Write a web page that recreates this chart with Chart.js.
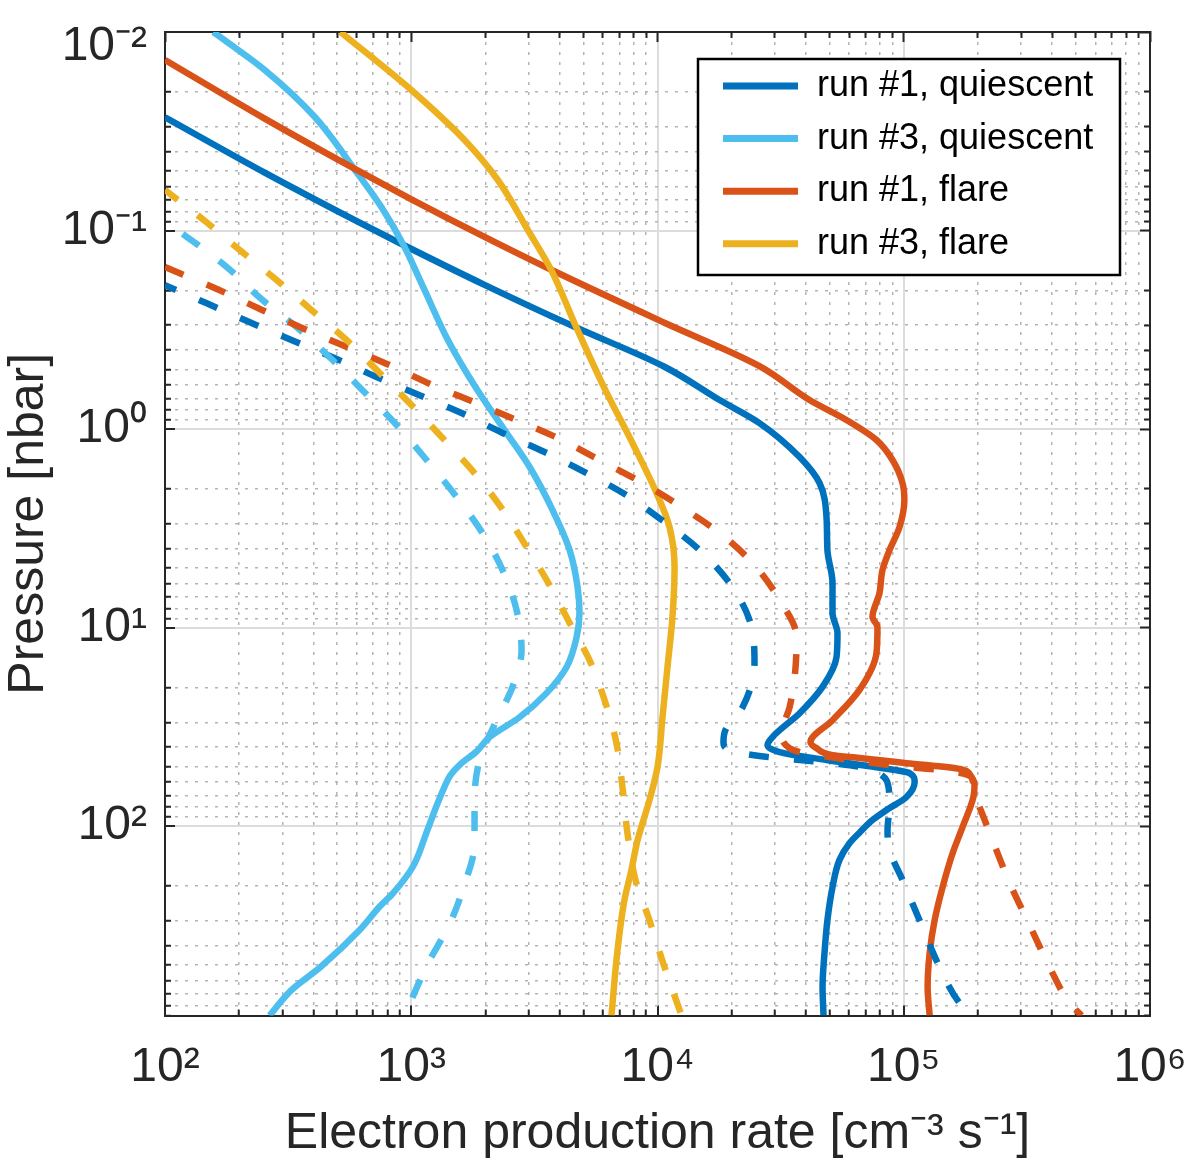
<!DOCTYPE html>
<html>
<head>
<meta charset="utf-8">
<script src="https://cdn.jsdelivr.net/npm/chart.js@4.4.1/dist/chart.umd.min.js"></script>
<style>
html,body{margin:0;padding:0;background:#ffffff;}
#wrap{width:1200px;height:1163px;position:relative;}
</style>
</head>
<body>
<div id="wrap"><canvas id="c" width="1200" height="1163"></canvas></div>
<script>
// ---------------- axis ticks & text ----------------
const xTickValues = [1e2, 1e3, 1e4, 1e5, 1e6];
const xTickLabels = ['10²', '10³', '10⁴', '10⁵', '10⁶'];
const yTickValues = [0.01, 0.1, 1, 10, 100];
const yTickLabels = ['10⁻²', '10⁻¹', '10⁰', '10¹', '10²'];
const minorMultipliers = [2, 3, 4, 5, 6, 7, 8, 9];
const xMinorDecades = [1e2, 1e3, 1e4, 1e5];
const yMinorDecades = [0.01, 0.1, 1, 10, 100];
const xAxisTitle = 'Electron production rate [cm⁻³ s⁻¹]';
const yAxisTitle = 'Pressure [nbar]';
const legendLabels = ['run #1, quiescent', 'run #3, quiescent', 'run #1, flare', 'run #3, flare'];

// ---------------- data: pressure [nbar] and electron production rate [cm^-3 s^-1] ----------------
// run #1, quiescent (solid)
const run1QuietSolidP = [0.0269, 0.0511, 0.0895, 0.1183, 0.1878, 0.3055, 0.4855, 0.714, 0.933, 1.384, 1.87, 2.77, 4.07, 5.97, 8.45, 10.66, 14.1, 19.9, 27.0, 35.6, 39.1, 42.4, 46.5, 50.5, 54.1, 60.0, 71.4, 83.0, 93.3, 108, 122, 148, 203, 298, 436, 647, 900];
const run1QuietSolidRate = [100, 254, 598, 930, 1984, 4603, 10670, 17870, 25950, 37770, 45500, 48550, 48980, 51370, 51370, 53820, 53330, 46800, 37770, 29320, 27970, 31320, 48550, 77500, 105600, 110700, 102600, 85140, 74650, 66120, 60200, 54840, 51370, 48980, 47660, 46800, 47230];
// run #3, quiescent (solid)
const run3QuietSolidP = [0.01, 0.01097, 0.01553, 0.02671, 0.05056, 0.07589, 0.1183, 0.1993, 0.356, 0.6237, 1.048, 1.553, 2.56, 4.07, 6.25, 8.45, 11.2, 15.8, 21.4, 28.3, 35.6, 42.24, 48.72, 55.35, 63.39, 79.95, 108.8, 160.3, 218.3, 255, 334, 513, 670, 900];
const run3QuietSolidRate = [157, 174, 254, 405, 598, 755, 930, 1132, 1408, 1836, 2440, 3025, 3749, 4396, 4736, 4822, 4693, 4276, 3543, 2753, 2081, 1836, 1585, 1443, 1365, 1263, 1150, 1015, 842, 743, 617, 428, 326, 266];
// run #1, flare (solid)
const run1FlareSolidP = [0.01384, 0.02733, 0.0494, 0.07022, 0.1077, 0.1577, 0.2914, 0.482, 0.714, 0.901, 1.136, 1.432, 1.87, 2.28, 3.12, 4.07, 5.13, 6.70, 8.85, 9.94, 13.4, 20.6, 29.3, 37.8, 40.5, 43.9, 45.4, 48.2, 51.6, 56.6, 62.1, 71.4, 101, 137, 203, 298, 436, 647, 900];
const run1FlareSolidRate = [100, 254, 598, 1015, 1984, 3701, 10670, 25950, 41440, 58520, 77500, 90010, 98840, 100600, 96090, 87560, 81970, 79720, 74650, 78200, 77500, 66120, 51370, 41800, 44230, 51370, 66120, 102600, 168700, 188300, 193800, 191800, 173400, 157900, 143800, 133500, 127400, 125000, 127400];
// run #3, flare (solid)
const run3FlareSolidP = [0.01, 0.0196, 0.035, 0.05566, 0.09943, 0.1581, 0.2935, 0.6237, 1.176, 2.10, 3.12, 4.95, 8.85, 15.8, 28.3, 50.5, 74.0, 118, 167, 236, 422, 900];
const run3FlareSolidRate = [516, 1000, 1645, 2247, 2974, 3701, 4603, 6092, 7909, 9908, 11190, 11730, 11500, 10980, 10480, 10000, 9276, 8295, 7833, 7340, 6880, 6503];
// run #1, quiescent (dashed)
const run1QuietDashedP = [0.1884, 0.232, 0.289, 0.356, 0.439, 0.547, 0.675, 0.830, 1.047, 1.306, 1.666, 2.153, 2.94, 4.07, 5.97, 9.17, 15.1, 25.2, 32.8, 37.8, 41.4, 44.4, 46.5, 48.7, 51.1, 55.3, 63.6, 78.4, 104.7, 132, 187, 298, 513, 780, 900];
const run1QuietDashedRate = [100, 147, 220, 326, 488, 723, 1081, 1600, 2348, 3478, 5152, 7476, 10670, 14830, 19610, 23640, 24770, 22150, 18880, 18530, 19610, 25950, 37770, 54840, 70580, 81280, 86700, 87560, 85930, 87560, 98840, 115900, 139800, 168700, 189200];
// run #3, quiescent (dashed)
const run3QuietDashedP = [0.0895, 0.1525, 0.224, 0.306, 0.449, 0.637, 0.955, 1.432, 2.20, 3.34, 5.13, 8.16, 13.0, 19.9, 29.3, 46.5, 74.0, 122, 203, 312, 496, 900];
const run3QuietDashedRate = [100, 178, 249, 342, 479, 634, 872, 1154, 1528, 1947, 2348, 2677, 2805, 2578, 2220, 1895, 1807, 1807, 1631, 1431, 1165, 940];
// run #1, flare (dashed)
const run1FlareDashedP = [0.1528, 0.1995, 0.252, 0.317, 0.391, 0.476, 0.600, 0.740, 0.901, 1.109, 1.432, 1.870, 2.47, 3.34, 4.73, 7.26, 11.2, 17.8, 25.2, 34.0, 40.5, 42.9, 44.9, 47.6, 50.5, 52.8, 57.3, 68.2, 80.2, 118, 193.6, 315.5, 513, 780, 900];
const run1FlareDashedRate = [100, 166, 249, 376, 561, 817, 1220, 1841, 2677, 3930, 5816, 8695, 12520, 17870, 24320, 31320, 36720, 36050, 34390, 31920, 34390, 39540, 50000, 69200, 105600, 153600, 189200, 192300, 203100, 229400, 269200, 324400, 391000, 471700, 527200];
// run #3, flare (dashed)
const run3FlareDashedP = [0.0625, 0.0906, 0.1254, 0.1775, 0.252, 0.356, 0.522, 0.757, 1.109, 1.666, 2.50, 3.93, 6.11, 9.49, 14.6, 23.2, 38.2, 63.6, 108, 187, 298, 496, 900];
const run3FlareDashedRate = [100, 147, 201, 284, 394, 546, 744, 1002, 1340, 1807, 2327, 2940, 3645, 4396, 5296, 6095, 6812, 7204, 7546, 8141, 9276, 10580, 12520];

// ---------------- styling ----------------
const FONT = '"Liberation Sans", Arial, Helvetica, sans-serif';
const AXC = '#262626';
const C_BLUE = '#0072BD', C_LBLUE = '#4DBEEE', C_ORANGE = '#D95319', C_YELLOW = '#EDB120';
const LW = 6.5;
const DASH = [20, 25];

const xMinorTicks = [];
xMinorDecades.forEach(d => minorMultipliers.forEach(m => xMinorTicks.push(m * d)));
const yMinorTicks = [];
yMinorDecades.forEach(d => minorMultipliers.forEach(m => { const v = m * d; if (v <= 900) yMinorTicks.push(v); }));

function pts(P, R) { return P.map((p, i) => ({ x: R[i], y: p })); }
function ds(label, P, R, color, dashed, order, dashOffset) {
  return {
    label: label, data: pts(P, R), xAxisID: 'x', yAxisID: 'y', indexAxis: 'y',
    borderColor: color, backgroundColor: color,
    borderWidth: LW, borderDash: dashed ? DASH : [], borderDashOffset: dashOffset || 0,
    pointRadius: 0, pointHoverRadius: 0,
    fill: false, cubicInterpolationMode: 'monotone', clip: 0, order: order,
    borderCapStyle: 'butt', borderJoinStyle: 'round'
  };
}

function setTicks(values) { return s => { s.ticks = values.map(v => ({ value: v })); }; }
function lookup(values, labels) {
  return v => { for (let i = 0; i < values.length; i++) { if (Math.abs(values[i] - v) / values[i] < 1e-6) return labels[i]; } return ''; };
}
const yLabel = lookup(yTickValues, yTickLabels);

function minorAxis(pos, min, max, ticks, extra) {
  const horiz = (pos === 'top' || pos === 'bottom');
  return Object.assign({
    type: 'logarithmic', position: pos, min: min, max: max, weight: 0,
    afterBuildTicks: setTicks(ticks),
    afterFit: s => { if (horiz) s.height = 0; else s.width = 0; s.paddingLeft = s.paddingRight = s.paddingTop = s.paddingBottom = 0; },
    ticks: { display: false, autoSkip: false },
    grid: { display: true, drawOnChartArea: false, drawTicks: true, tickLength: -6, tickColor: AXC, tickWidth: 2 },
    border: { display: false }
  }, extra || {});
}

const xMin = 100, xMax = 1e6, yMin = 0.01, yMax = 900;

const chart = new Chart(document.getElementById('c'), {
  type: 'line',
  data: {
    datasets: [
      ds(legendLabels[0], run1QuietSolidP, run1QuietSolidRate, C_BLUE, false, 8),
      ds(legendLabels[1], run3QuietSolidP, run3QuietSolidRate, C_LBLUE, false, 7),
      ds(legendLabels[2], run1FlareSolidP, run1FlareSolidRate, C_ORANGE, false, 6),
      ds(legendLabels[3], run3FlareSolidP, run3FlareSolidRate, C_YELLOW, false, 5),
      ds(legendLabels[0] + ' (dashed)', run1QuietDashedP, run1QuietDashedRate, C_BLUE, true, 4, 8),
      ds(legendLabels[1] + ' (dashed)', run3QuietDashedP, run3QuietDashedRate, C_LBLUE, true, 3, 23),
      ds(legendLabels[2] + ' (dashed)', run1FlareDashedP, run1FlareDashedRate, C_ORANGE, true, 2, 0),
      ds(legendLabels[3] + ' (dashed)', run3FlareDashedP, run3FlareDashedRate, C_YELLOW, true, 1, 4)
    ]
  },
  options: {
    responsive: false,
    animation: false,
    events: [],
    layout: { padding: { top: 32, right: 50, bottom: 0, left: 0 } },
    plugins: { legend: { display: false }, tooltip: { enabled: false } },
    scales: {
      x: {
        type: 'logarithmic', position: 'bottom', min: xMin, max: xMax, weight: 1,
        afterBuildTicks: setTicks(xTickValues),
        afterFit: s => { s.height = 147.5; s.paddingLeft = 0; s.paddingRight = 0; },
        ticks: { autoSkip: false, maxRotation: 0, minRotation: 0, padding: 33, color: AXC,
                 font: { family: FONT, size: 48 }, callback: lookup(xTickValues, xTickLabels) },
        grid: { color: '#dcdcdc', lineWidth: 2, drawTicks: true, tickLength: -10, tickColor: AXC, tickWidth: 2 },
        border: { display: true, color: AXC, width: 2 },
        title: { display: true, text: xAxisTitle, color: AXC, font: { family: FONT, size: 50, lineHeight: 1.15 }, padding: { top: 0, bottom: 0 } }
      },
      xMinor: minorAxis('bottom', xMin, xMax, xMinorTicks, {
        grid: { display: true, drawOnChartArea: true, color: '#b4b4b4', lineWidth: 1.5, drawTicks: true, tickLength: -6, tickColor: AXC, tickWidth: 2 },
        border: { display: false, dash: [3, 7] }
      }),
      xTop: {
        type: 'logarithmic', position: 'top', min: xMin, max: xMax, weight: 1,
        afterBuildTicks: setTicks(xTickValues),
        afterFit: s => { s.height = 0; s.paddingLeft = 0; s.paddingRight = 0; },
        ticks: { display: false, autoSkip: false },
        grid: { display: true, drawOnChartArea: false, drawTicks: true, tickLength: -10, tickColor: AXC, tickWidth: 2 },
        border: { display: true, color: AXC, width: 2 }
      },
      xTopMinor: minorAxis('top', xMin, xMax, xMinorTicks),
      y: {
        type: 'logarithmic', position: 'left', reverse: true, min: yMin, max: yMax, weight: 1,
        afterBuildTicks: setTicks(yTickValues),
        afterFit: s => { s.width = 165; s.paddingTop = 0; s.paddingBottom = 0; },
        ticks: { autoSkip: false, padding: 28, color: AXC, font: { family: FONT, size: 48 },
                 callback: v => (Math.abs(v - yTickValues[0]) / yTickValues[0] < 1e-6 ? '' : yLabel(v)) },
        grid: { color: '#dcdcdc', lineWidth: 2, drawTicks: true, tickLength: -10, tickColor: AXC, tickWidth: 2 },
        border: { display: true, color: AXC, width: 2 },
        title: { display: true, text: yAxisTitle, color: AXC, font: { family: FONT, size: 50, lineHeight: 1.15 }, padding: { top: 0, bottom: 0 } }
      },
      yTopLabel: {
        type: 'logarithmic', position: 'left', reverse: true, min: yMin, max: yMax, weight: 0,
        afterBuildTicks: setTicks([yTickValues[0]]),
        afterFit: s => { s.width = 0; s.paddingTop = 0; s.paddingBottom = 0; },
        ticks: { autoSkip: false, padding: 28, labelOffset: 15, color: AXC, font: { family: FONT, size: 48 }, callback: yLabel },
        grid: { display: false, drawOnChartArea: false, drawTicks: true, tickLength: -10 },
        border: { display: false }
      },
      yMinor: minorAxis('left', yMin, yMax, yMinorTicks, {
        reverse: true,
        grid: { display: true, drawOnChartArea: true, color: '#b4b4b4', lineWidth: 1.5, drawTicks: true, tickLength: -6, tickColor: AXC, tickWidth: 2 },
        border: { display: false, dash: [3, 7] }
      }),
      yRight: {
        type: 'logarithmic', position: 'right', reverse: true, min: yMin, max: yMax, weight: 1,
        afterBuildTicks: setTicks(yTickValues),
        afterFit: s => { s.width = 0; s.paddingTop = 0; s.paddingBottom = 0; },
        ticks: { display: false, autoSkip: false },
        grid: { display: true, drawOnChartArea: false, drawTicks: true, tickLength: -10, tickColor: AXC, tickWidth: 2 },
        border: { display: true, color: AXC, width: 2 }
      },
      yRightMinor: minorAxis('right', yMin, yMax, yMinorTicks, { reverse: true })
    }
  },
  plugins: [{
    id: 'topLabelArea',
    afterLayout(chart) {
      // let the zero-width axis that carries the top tick label use the full left margin for its text
      const s = chart.scales.yTopLabel;
      if (s) { s.left = 0; }
    }
  }, {
    id: 'boxLegend',
    afterDatasetsDraw(chart) {
      const ctx = chart.ctx, ca = chart.chartArea;
      const w = 422, h = 216;
      const x0 = ca.right - 30 - w, y0 = ca.top + 27;
      ctx.save();
      ctx.fillStyle = '#ffffff';
      ctx.fillRect(x0, y0, w, h);
      ctx.lineWidth = 2.5;
      ctx.strokeStyle = '#000000';
      ctx.strokeRect(x0, y0, w, h);
      ctx.font = '36px ' + FONT;
      ctx.textBaseline = 'alphabetic';
      ctx.textAlign = 'left';
      legendLabels.forEach((lab, i) => {
        const d = chart.data.datasets.find(dd => dd.label === lab);
        const y = y0 + 27 + i * 52.6;
        ctx.strokeStyle = d.borderColor;
        ctx.lineWidth = 7;
        ctx.setLineDash([]);
        ctx.beginPath();
        ctx.moveTo(x0 + 25, y);
        ctx.lineTo(x0 + 100, y);
        ctx.stroke();
        ctx.fillStyle = '#000000';
        ctx.fillText(lab, x0 + 119, y + 10);
      });
      ctx.restore();
    }
  }]
});
</script>
</body>
</html>
